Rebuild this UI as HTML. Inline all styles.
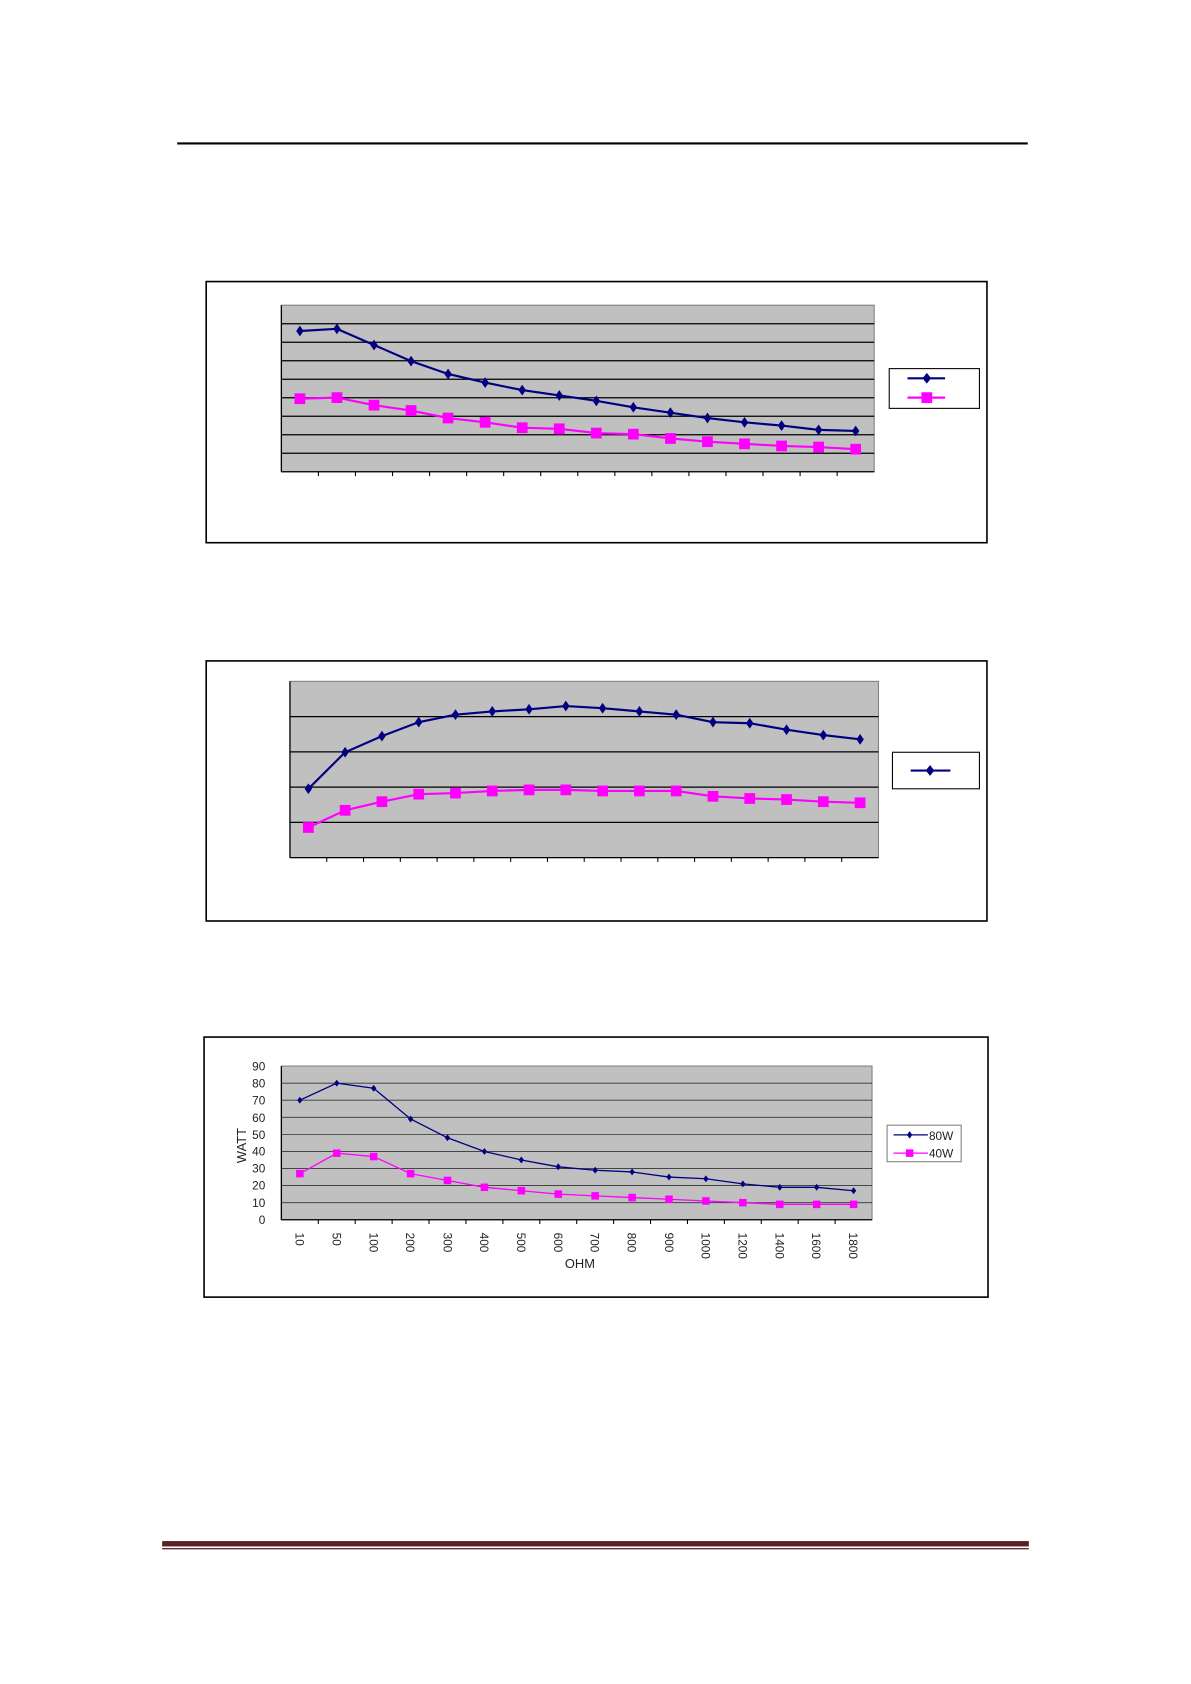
<!DOCTYPE html>
<html><head><meta charset="utf-8"><style>
html,body{margin:0;padding:0;background:#fff;}
svg{display:block;font-family:"Liberation Sans",sans-serif;}
</style></head><body>
<svg id="s" width="1191" height="1684" viewBox="0 0 1109 1567" preserveAspectRatio="none" xmlns="http://www.w3.org/2000/svg">
<rect width="1109" height="1567" fill="#fff"/>
<line x1="165" y1="133.5" x2="957" y2="133.5" stroke="#000" stroke-width="2"/>
<rect x="151" y="1434" width="807" height="5" fill="#5c2124"/>
<rect x="151" y="1440.5" width="807" height="1.2" fill="#5c2124"/>

<rect x="192" y="262" width="727" height="243" fill="#fff" stroke="#000" stroke-width="1.5"/>
<rect x="192" y="615" width="727" height="242" fill="#fff" stroke="#000" stroke-width="1.5"/>
<rect x="190" y="965" width="730" height="242" fill="#fff" stroke="#000" stroke-width="1.5"/>
<g id="g"></g>

<g font-size="11" fill="#222" text-anchor="end">
<text x="247" y="996">90</text><text x="247" y="1012">80</text><text x="247" y="1028">70</text>
<text x="247" y="1044">60</text><text x="247" y="1060">50</text><text x="247" y="1075">40</text>
<text x="247" y="1091">30</text><text x="247" y="1107">20</text><text x="247" y="1123">10</text>
<text x="247" y="1139">0</text>
</g>
<text x="0" y="0" font-size="12" fill="#222" text-anchor="middle" transform="translate(229,1066) rotate(-90)">WATT</text>
<text x="540" y="1180" font-size="12" fill="#222" text-anchor="middle">OHM</text>
<g font-size="11" fill="#222">
<text transform="translate(275,1147) rotate(90)">10</text>
<text transform="translate(309.5,1147) rotate(90)">50</text>
<text transform="translate(344,1147) rotate(90)">100</text>
<text transform="translate(378,1147) rotate(90)">200</text>
<text transform="translate(413,1147) rotate(90)">300</text>
<text transform="translate(447,1147) rotate(90)">400</text>
<text transform="translate(481.5,1147) rotate(90)">500</text>
<text transform="translate(516,1147) rotate(90)">600</text>
<text transform="translate(550,1147) rotate(90)">700</text>
<text transform="translate(584.5,1147) rotate(90)">800</text>
<text transform="translate(619,1147) rotate(90)">900</text>
<text transform="translate(653,1147) rotate(90)">1000</text>
<text transform="translate(687.5,1147) rotate(90)">1200</text>
<text transform="translate(722,1147) rotate(90)">1400</text>
<text transform="translate(756,1147) rotate(90)">1600</text>
<text transform="translate(790.5,1147) rotate(90)">1800</text>
</g>
<g font-size="11" fill="#222"><text x="865" y="1061">80W</text><text x="865" y="1077">40W</text></g>
</svg>
<script>
var g=document.getElementById('g'),NS='http://www.w3.org/2000/svg';
function el(t,a){var e=document.createElementNS(NS,t);for(var k in a)e.setAttribute(k,a[k]);g.appendChild(e);return e;}
function chart(x0,y0,x1,y1,nb,blue,pink,big){
 el('rect',{x:x0,y:y0,width:x1-x0,height:y1-y0,fill:'#c0c0c0',stroke:'#808080','stroke-width':1});
 for(var i=1;i<nb;i++){var y=y0+(y1-y0)*i/nb;el('line',{x1:x0,y1:y,x2:x1,y2:y,stroke:big?'#000':'#333','stroke-width':big?1.2:0.8});}
 el('line',{x1:x0,y1:y0,x2:x0,y2:y1,stroke:'#000','stroke-width':1.2});
 el('line',{x1:x0,y1:y1,x2:x1,y2:y1,stroke:'#000','stroke-width':1.2});
 var w=(x1-x0)/16;
 for(var i=1;i<16;i++)el('line',{x1:x0+w*i,y1:y1,x2:x0+w*i,y2:y1+4,stroke:'#000','stroke-width':1});
 [[pink,'#ff00ff',0],[blue,'#000080',1]].forEach(function(s){
  if(!s[0])return;var pts=s[0].map(function(v,i){return [x0+w/2+w*i,v];});
  el('polyline',{points:pts.map(function(p){return p.join(',')}).join(' '),fill:'none',stroke:s[1],'stroke-width':big?2:1.2});
  pts.forEach(function(p){
   if(s[2]){var r=big?5:3.2,rx=big?3.5:2.5;el('polygon',{points:(p[0])+','+(p[1]-r)+' '+(p[0]+rx)+','+p[1]+' '+p[0]+','+(p[1]+r)+' '+(p[0]-rx)+','+p[1],fill:s[1]});}
   else{var h=big?5:3.5;el('rect',{x:p[0]-h,y:p[1]-h,width:2*h,height:2*h,fill:s[1]});}
  });
 });
}
chart(262,284,814,439,9,[308,306,321,336,348,356,363,368,373,379,384,389,393,396,400,401],[371,370,377,382,389,393,398,399,403,404,408,411,413,415,416,418],true);
chart(270,634,818,798,5,[734,700,685,672,665,662,660,657,659,662,665,672,673,679,684,688],[770,754,746,739,738,736,735,735,736,736,736,741,743,744,746,747],true);
var Y=function(v){return 1135-v*143/90;};
chart(262,992,812,1135,9,[70,80,77,59,48,40,35,31,29,28,25,24,21,19,19,17].map(Y),[27,39,37,27,23,19,17,15,14,13,12,11,10,9,9,9].map(Y),false);
el('rect',{x:828,y:343,width:84,height:37,fill:'#fff',stroke:'#000','stroke-width':1});
el('line',{x1:845,y1:352,x2:880,y2:352,stroke:'#000080','stroke-width':2});
el('polygon',{points:'863,347 867,352 863,357 859,352',fill:'#000080'});
el('line',{x1:845,y1:370,x2:880,y2:370,stroke:'#ff00ff','stroke-width':2});
el('rect',{x:858,y:365,width:10,height:10,fill:'#ff00ff'});
el('rect',{x:831,y:700,width:81,height:34,fill:'#fff',stroke:'#000','stroke-width':1});
el('line',{x1:848,y1:717,x2:885,y2:717,stroke:'#000080','stroke-width':2});
el('polygon',{points:'866,712 870,717 866,722 862,717',fill:'#000080'});
el('rect',{x:826,y:1047,width:69,height:34,fill:'#fff',stroke:'#808080','stroke-width':1});
el('line',{x1:832,y1:1056,x2:864,y2:1056,stroke:'#000080','stroke-width':1.2});
el('polygon',{points:'847,1052.5 849.5,1056 847,1059.5 844.5,1056',fill:'#000080'});
el('line',{x1:832,y1:1073,x2:864,y2:1073,stroke:'#ff00ff','stroke-width':1.2});
el('rect',{x:843.5,y:1069.5,width:7,height:7,fill:'#ff00ff'});
</script>
</body></html>
